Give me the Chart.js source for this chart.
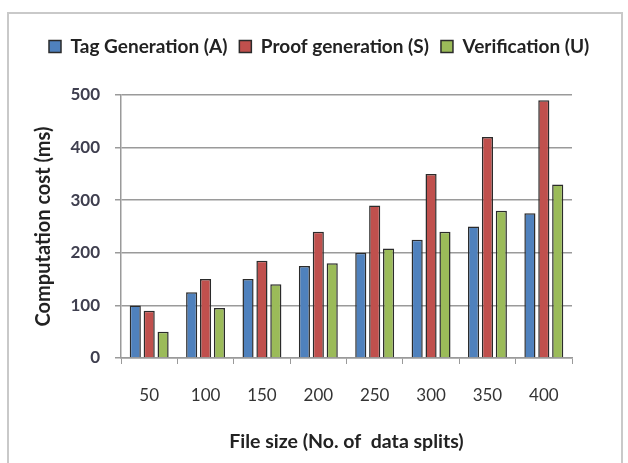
<!DOCTYPE html>
<html>
<head>
<meta charset="utf-8">
<script src="https://cdn.jsdelivr.net/npm/chart.js@4/dist/chart.umd.min.js"></script>
<style>
	html, body { margin: 0; padding: 0; background: #fff; }
	#wrap { position: relative; width: 628px; height: 463px; overflow: hidden; }
	#frame {
		position: absolute; left: 7px; top: 12px; width: 616px; height: 470px;
		border: 2px solid #c9c9c9; box-sizing: border-box;
	}
	#c { position: absolute; left: 0; top: 0; }
</style>
</head>
<body>
<div id="wrap">
	<div id="frame"></div>
	<canvas id="c" width="628" height="463"></canvas>
</div>
<script>
// data
const fileSizes = ['50', '100', '150', '200', '250', '300', '350', '400']
const tagGeneration = [100, 125, 150, 175, 200, 225, 250, 275]
const proofGeneration = [90, 150, 185, 240, 290, 350, 420, 490]
const verification = [50, 95, 140, 180, 208, 240, 280, 330]
const yTicks = [0, 100, 200, 300, 400, 500]

const textFont = "Lato, 'Open Sans', sans-serif"

// push the plot area down below the legend
const legendGap = {
	id: 'legendGap',
	beforeInit(chart) {
		const fit = chart.legend.fit
		chart.legend.fit = function () {
			fit.bind(chart.legend)()
			this.height += 29
		}
	},
}

function bars(label, data, color) {
	return {
		label: label,
		data: data,
		backgroundColor: color,
		borderColor: '#2b2b2b',
		borderWidth: 1.5,
		borderSkipped: 'bottom',
		barPercentage: 0.8,
		categoryPercentage: 0.74,
	}
}

new Chart(document.getElementById('c'), {
	type: 'bar',
	data: {
		labels: fileSizes,
		datasets: [
			bars('Tag Generation (A)', tagGeneration, '#4f81bd'),
			bars('Proof generation (S)', proofGeneration, '#c0504d'),
			bars('Verification (U)', verification, '#9bbb59'),
		],
	},
	options: {
		responsive: false,
		animation: false,
		layout: { padding: { left: 37, right: 4, top: 25, bottom: 0 } },
		plugins: {
			tooltip: { enabled: false },
			legend: {
				position: 'top',
				align: 'start',
				labels: {
					boxWidth: 12,
					boxHeight: 12,
					padding: 12,
					color: '#222',
					font: { family: textFont, size: 19, weight: 'bold' },
				},
			},
		},
		scales: {
			x: {
				afterFit(scale) { scale.height = 105 },
				grid: {
					display: true,
					drawOnChartArea: false,
					offset: true,
					tickLength: 6,
					color: '#9a9a9a',
				},
				border: { color: '#9a9a9a', width: 1.5 },
				ticks: {
					padding: 21,
					color: '#333',
					font: { family: textFont, size: 17 },
				},
				title: {
					display: true,
					text: 'File size (No. of  data splits)',
					color: '#222',
					padding: { top: 0, bottom: 10 },
					font: { family: textFont, size: 19.5, weight: 'bold' },
				},
			},
			y: {
				min: 0,
				max: 500,
				afterFit(scale) { scale.width = 84 },
				afterBuildTicks(scale) { scale.ticks = yTicks.map((v) => ({ value: v })) },
				grid: { color: '#9a9a9a', lineWidth: 1.5, tickLength: 6 },
				border: { color: '#9a9a9a', width: 1.5 },
				ticks: {
					padding: 15,
					color: '#3f3f4f',
					font: { family: textFont, size: 17, weight: 'bold' },
				},
				title: {
					display: true,
					text: 'Computation cost (ms)',
					color: '#222',
					padding: { top: -5, bottom: 0 },
					font: { family: textFont, size: 20, weight: 'bold' },
				},
			},
			// empty right-hand margin so the plot ends where the original does
			spacer: {
				type: 'linear',
				position: 'right',
				min: 0,
				max: 1,
				afterFit(scale) { scale.width = 52 },
				grid: { display: false },
				border: { display: false },
				ticks: { display: false },
			},
		},
	},
	plugins: [legendGap],
})
</script>
</body>
</html>
